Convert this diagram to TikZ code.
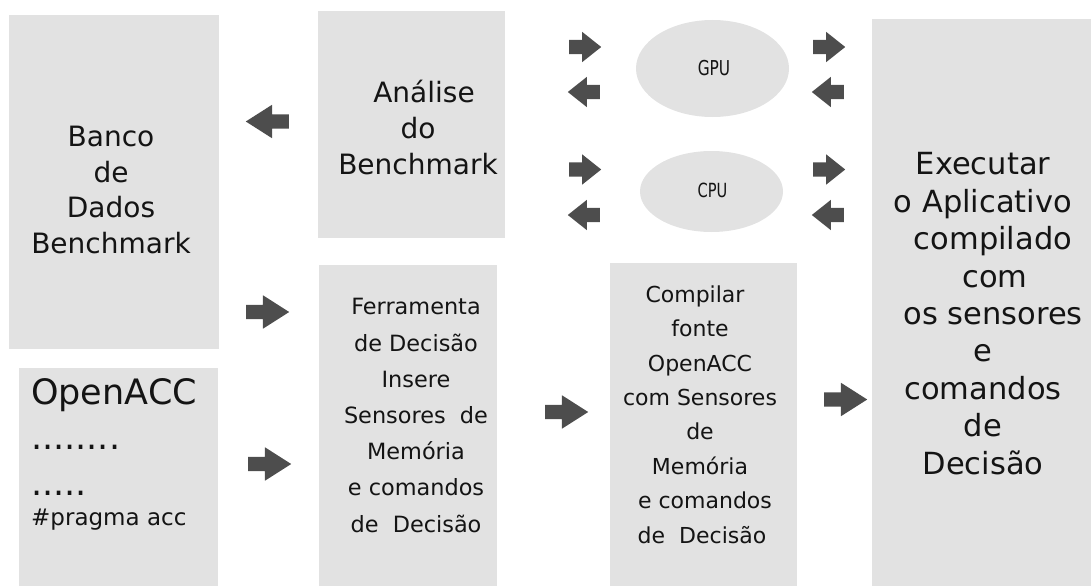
\documentclass[tikz,border=0pt]{standalone}
\usepackage{fontspec}
\setmainfont{DejaVu Sans}
\newfontfamily\slimfont{DejaVu Sans}[FakeStretch=0.75]
\usetikzlibrary{shapes.geometric,shapes.arrows}
\definecolor{panel}{HTML}{E2E2E2}
\definecolor{arrowgray}{HTML}{4D4D4D}
\definecolor{ink}{HTML}{141414}
% horizontal nudge of a single centred line
\newcommand{\nudge}[1]{\hspace*{#1}}

\begin{document}
\begin{tikzpicture}[x=1pt,y=-1pt,
  panelbox/.style={fill=panel, draw=none, inner sep=0pt, anchor=north west},
  unit/.style={ellipse, fill=panel, draw=none, inner sep=0pt},
  bigarrow/.style={single arrow, fill=arrowgray, draw=none, inner sep=0pt,
    text height=14pt, text depth=0pt, minimum width=0pt, minimum height=43pt,
    single arrow head extend=9.5pt, single arrow tip angle=65},
  smallarrow/.style={single arrow, fill=arrowgray, draw=none, inner sep=0pt,
    text height=14pt, text depth=0pt, minimum width=0pt, minimum height=32pt,
    single arrow head extend=8pt, single arrow tip angle=77},
  leftward/.style={shape border rotate=180},
  % multi-line labels are placed by the baseline of their last line
  label/.style={text=ink, align=center, anchor=base, inner sep=0pt},
]
\useasboundingbox (0,0) rectangle (1091,586);

% panels
\node[panelbox, minimum width=210pt, minimum height=334pt] (banco) at (9,15) {};
\node[panelbox, minimum width=199pt, minimum height=218pt] (openacc) at (19,368) {};
\node[panelbox, minimum width=187pt, minimum height=227pt] (analise) at (318,11) {};
\node[panelbox, minimum width=178pt, minimum height=321pt] (ferramenta) at (319,265) {};
\node[panelbox, minimum width=187pt, minimum height=323pt] (compilar) at (610,263) {};
\node[panelbox, minimum width=219pt, minimum height=567pt] (executar) at (872,19) {};

% processing units
\node[unit, minimum width=153pt, minimum height=97pt] (gpu) at (712.5,68.5) {};
\node[unit, minimum width=143pt, minimum height=81pt] (cpu) at (711.5,191.5) {};

% block arrows
\node[bigarrow, leftward, anchor=tail] (a1) at (289,121.5) {};
\node[bigarrow, anchor=tail] (a2) at (246,312) {};
\node[bigarrow, anchor=tail] (a3) at (248,464) {};
\node[bigarrow, anchor=tail] (a4) at (545,412) {};
\node[bigarrow, anchor=tail] (a5) at (824,399.5) {};

\node[smallarrow, anchor=tail] (g1) at (569,47) {};
\node[smallarrow, leftward, anchor=tail] (g2) at (600,92) {};
\node[smallarrow, anchor=tail] (g3) at (813,47) {};
\node[smallarrow, leftward, anchor=tail] (g4) at (844,92) {};
\node[smallarrow, anchor=tail] (c1) at (569,169.5) {};
\node[smallarrow, leftward, anchor=tail] (c2) at (600,215) {};
\node[smallarrow, anchor=tail] (c3) at (813,169.5) {};
\node[smallarrow, leftward, anchor=tail] (c4) at (844,215) {};

% texts
\node[label, font=\fontsize{28}{35.5}\selectfont] (bancotxt) at (111,253)
  {Banco\\de\nudge{18pt}\\Dados\\Benchmark};
\node[label, font=\fontsize{28}{36}\selectfont] (analisetxt) at (418,174)
  {\nudge{12pt}Análise\\do\\Benchmark};
\node[label, font=\fontsize{22.4}{36.2}\selectfont] (ferramentatxt) at (416,532)
  {Ferramenta\\de Decisão\nudge{6pt}\\Insere\nudge{18pt}\\Sensores\ \ de\\Memória\\e comandos\nudge{6pt}\\de\ \ Decisão};
\node[label, font=\fontsize{22}{34.4}\selectfont] (compilartxt) at (700,543)
  {Compilar\nudge{10pt}\\fonte\nudge{12pt}\\OpenACC\nudge{5pt}\\com Sensores\\de\nudge{14pt}\\Memória\nudge{16pt}\\\nudge{10pt}e comandos\\\nudge{4pt}de\ \ Decisão};
\node[label, font=\fontsize{30.5}{37.4}\selectfont] (executartxt) at (983,474)
  {Executar\\o Aplicativo\\\nudge{20pt}compilado\\\nudge{24pt}com\\\nudge{20pt}os sensores\\e\\comandos\\de\\Decisão};

\node[label, align=left, anchor=base west, font=\fontsize{35}{45.5}\selectfont] (codetxt) at (31,495)
  {OpenACC\\........\\.....};
\node[label, anchor=base west, font=\fontsize{23}{30}\selectfont] (pragmatxt) at (31,525)
  {\#pragma acc};

\node[label, font=\slimfont\fontsize{20.5}{24}\selectfont] (gputxt) at (714,75) {GPU};
\node[label, font=\slimfont\fontsize{19.5}{24}\selectfont] (cputxt) at (712.5,197) {CPU};
\end{tikzpicture}
\end{document}
